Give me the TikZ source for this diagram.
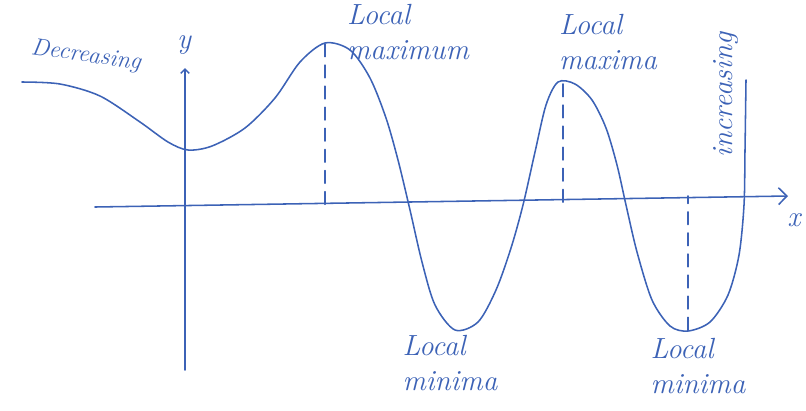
\documentclass[tikz,border=0pt]{standalone}
\usetikzlibrary{arrows.meta}
\definecolor{penblue}{RGB}{60,98,182}
\tikzset{pen/.style={penblue,line width=1.1pt,line cap=round},
  hand/.style={penblue,font=\huge\itshape,align=left,inner sep=1pt}}
\begin{document}
\begin{tikzpicture}[x=0.025cm,y=-0.025cm]
\useasboundingbox (0,0) rectangle (806,410);
\coordinate (O) at (185,205); \coordinate (xl) at (95,207); \coordinate (xr) at (788,196);
\coordinate (yb) at (185,370); \coordinate (yt) at (185,68);
\coordinate (max1) at (325,44); \coordinate (max2) at (563,84); \coordinate (min2) at (688,330);
\draw[pen,-{Straight Barb[length=6pt,width=12pt]}] (xl)--(xr);
\draw[pen,-{Straight Barb[length=3pt,width=6pt]}] (yb)--(yt);
\node[hand] (ylab) at (184,45) {y}; \node[hand] (xlab) at (794,220) {x};
\draw[pen] plot[smooth,tension=0.5] coordinates {(22,82) (60,84) (100,96) (140,122) (168,142) (188,150)
  (212,146) (245,128) (275,98) (300,62) (325,43) (350,50) (370,78) (386,118) (398,160) (410,210) (422,262)
  (435,305) (455,330) (478,322) (496,290) (511,248) (523,205) (535,152) (546,105) (558,82) (575,84)
  (592,100) (606,128) (617,165) (626,205) (637,252) (652,300) (670,326) (688,331) (710,322) (728,295)
  (739,255) (744,205) (745,150) (746,80)};
\draw[pen,dash pattern=on 9pt off 6pt] (max1)--(max1|-O); \draw[pen,dash pattern=on 9pt off 6pt] (max2)--(max2|-O);
\draw[pen,dash pattern=on 9pt off 6pt] (min2)--(min2|-xr);
\node[hand,font=\LARGE\itshape,rotate=-8] (dec) at (86,56) {Decreasing};
\node[hand] (lmax1) at (408,32) {Local\\maximum};
\node[hand] (lmax2) at (608,42) {Local\\maxima};
\node[hand] (lmin1) at (450,363) {Local\\minima};
\node[hand] (lmin2) at (698,366) {Local\\minima};
\node[hand,rotate=90] (inc) at (726,95) {increasing};
\end{tikzpicture}
\end{document}
